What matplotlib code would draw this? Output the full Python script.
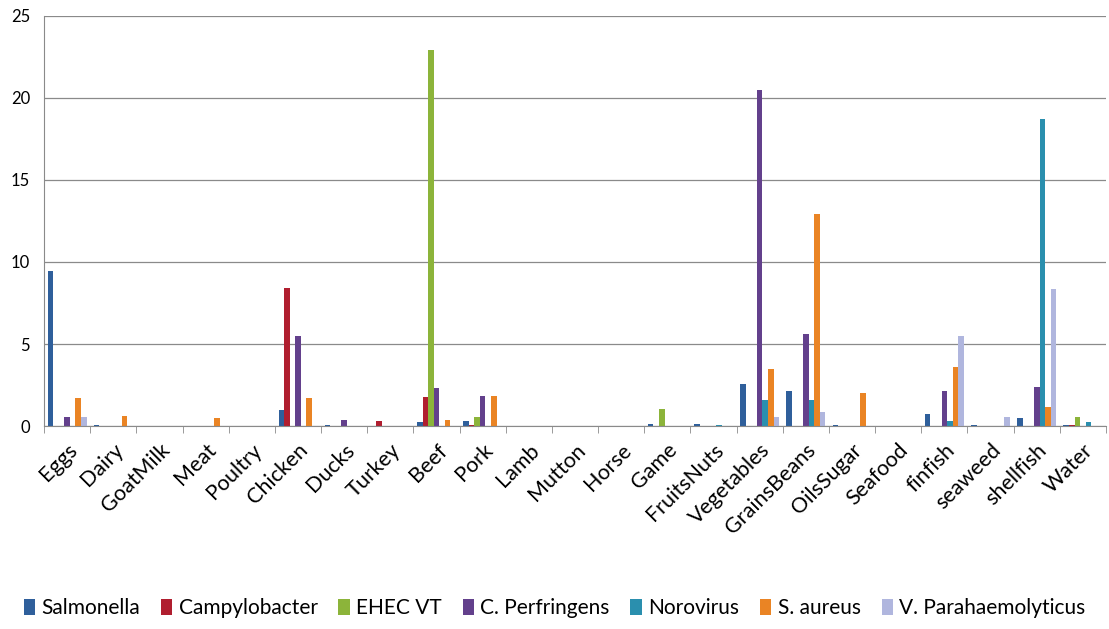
import numpy as np
import matplotlib
matplotlib.use("Agg")
from matplotlib import pyplot as plt

plt.rcParams['font.family'] = ['Lato', 'DejaVu Sans']

categories = ['Eggs', 'Dairy', 'GoatMilk', 'Meat', 'Poultry', 'Chicken', 'Ducks',
              'Turkey', 'Beef', 'Pork', 'Lamb', 'Mutton', 'Horse', 'Game',
              'FruitsNuts', 'Vegetables', 'GrainsBeans', 'OilsSugar', 'Seafood',
              'finfish', 'seaweed', 'shellfish', 'Water']

salmonella = [9.45, 0.05, 0, 0, 0, 1.0, 0.05, 0, 0.25, 0.3, 0, 0, 0, 0.1,
              0.1, 2.56, 2.11, 0.08, 0, 0.75, 0.08, 0.49, 0.07]
campylobacter = [0, 0, 0, 0, 0, 8.4, 0, 0.3, 1.75, 0.05, 0, 0, 0, 0,
                 0, 0, 0, 0, 0, 0, 0, 0, 0.07]
ehec_vt = [0, 0, 0, 0, 0, 0, 0, 0, 22.9, 0.55, 0, 0, 0, 1.02,
           0, 0, 0, 0, 0, 0, 0, 0, 0.55]
c_perfringens = [0.53, 0, 0, 0, 0, 5.47, 0.35, 0, 2.32, 1.85, 0, 0, 0, 0,
                 0, 20.5, 5.59, 0, 0, 2.13, 0, 2.38, 0]
norovirus = [0, 0, 0, 0, 0, 0, 0, 0, 0, 0, 0, 0, 0, 0,
             0.05, 1.6, 1.6, 0, 0, 0.33, 0, 18.7, 0.25]
s_aureus = [1.69, 0.6, 0, 0.5, 0, 1.69, 0, 0, 0.39, 1.85, 0, 0, 0, 0,
            0, 3.46, 12.9, 2.01, 0, 3.58, 0, 1.16, 0]
v_parahaem = [0.53, 0, 0, 0, 0, 0, 0, 0, 0, 0, 0, 0, 0, 0,
              0, 0.55, 0.85, 0, 0, 5.5, 0.57, 8.37, 0]

series = [
    ('Salmonella', salmonella, '#2f5f9b'),
    ('Campylobacter', campylobacter, '#b01e2f'),
    ('EHEC VT', ehec_vt, '#8cb43a'),
    ('C. Perfringens', c_perfringens, '#63408c'),
    ('Norovirus', norovirus, '#2a8fae'),
    ('S. aureus', s_aureus, '#ea8424'),
    ('V. Parahaemolyticus', v_parahaem, '#b0b6de'),
]

fig = plt.figure(figsize=(11.09, 6.29), dpi=100)
ax = fig.add_axes([0.0397, 0.3227, 0.9576, 0.652])

x = np.arange(len(categories))
n = len(series)
width = 1 / (n + 1.3)
for i, (name, vals, color) in enumerate(series):
    ax.bar(x + (i - (n - 1) / 2) * width, vals, width, color=color, label=name)

ax.set_xlim(-0.5, len(categories) - 0.5)
ax.set_ylim(0, 25)
ax.set_yticks(range(0, 26, 5))
ax.yaxis.grid(True, color='#8a8a8a', linewidth=0.9)
ax.set_axisbelow(True)

# category labels at centres, tick marks at boundaries
ax.set_xticks(x)
ax.set_xticklabels(categories, rotation=45, ha='right', rotation_mode='anchor',
                   fontsize=15.5)
ax.tick_params(axis='x', which='major', length=0, pad=10)
ax.set_xticks(np.arange(-0.5, len(categories)), minor=True)
ax.tick_params(axis='x', which='minor', length=5, color='#8a8a8a', direction='out')
ax.tick_params(axis='y', length=0, labelsize=12, pad=10)

for s in ['top', 'right']:
    ax.spines[s].set_visible(False)
ax.spines['left'].set_color('#8a8a8a')
ax.spines['bottom'].set_color('#8a8a8a')

fig.legend(loc='lower center', bbox_to_anchor=(0.5, -0.012), ncol=7, frameon=False,
           fontsize=15, handlelength=0.55, handleheight=0.8, handletextpad=0.3,
           columnspacing=1.0)

fig.savefig('out.png', dpi=100)
